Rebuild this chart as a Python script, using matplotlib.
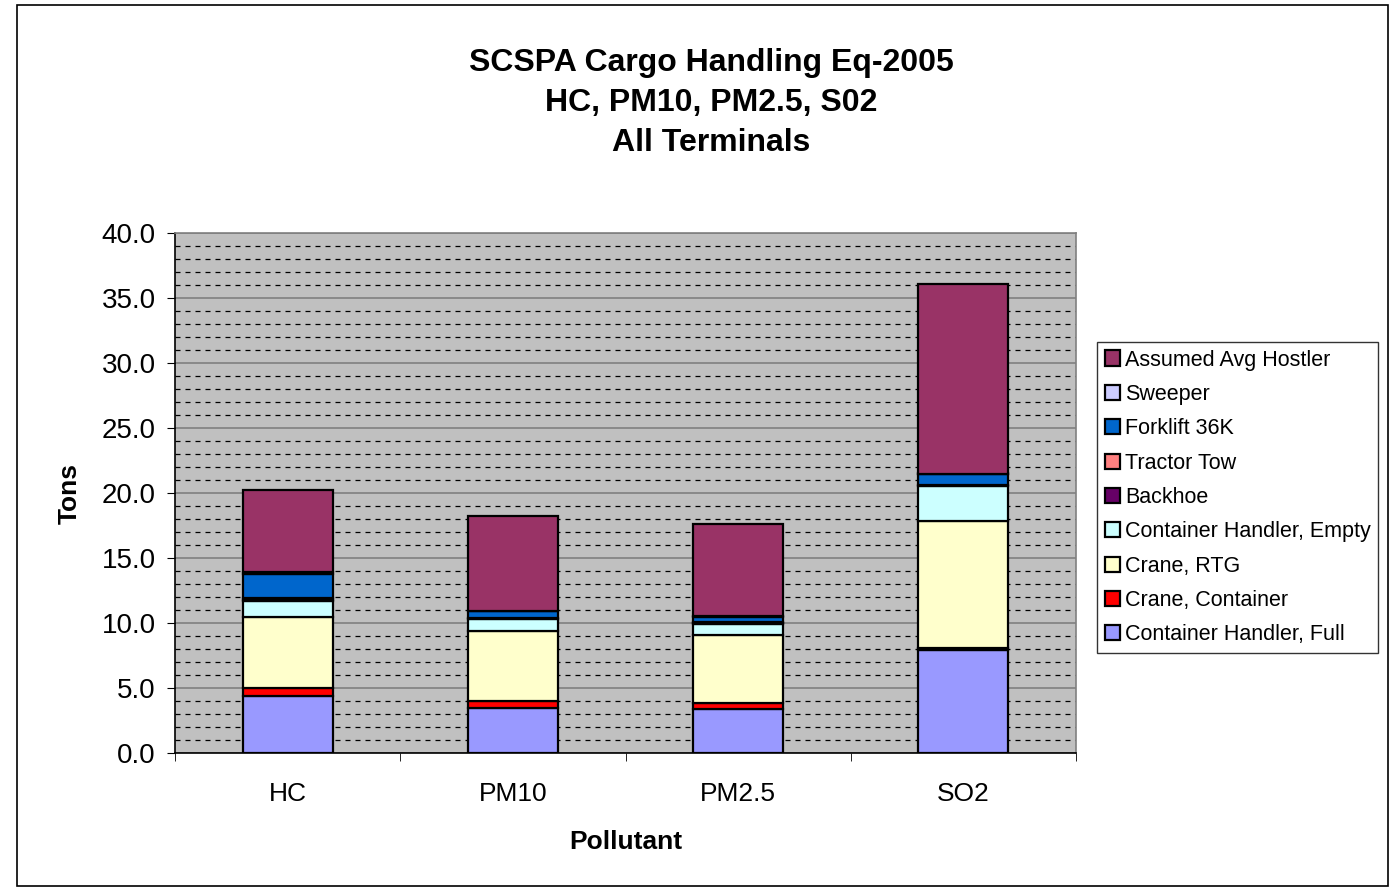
import numpy as np
import matplotlib.pyplot as plt
from matplotlib.patches import Rectangle

plt.rcParams['font.family'] = ['Liberation Sans', 'DejaVu Sans']

pollutants = ["HC", "PM10", "PM2.5", "SO2"]

# stacked from bottom to top
ch_full = [4.4, 3.5, 3.4, 7.9]
crane_container = [0.6, 0.5, 0.45, 0.15]
crane_rtg = [5.5, 5.4, 5.2, 9.8]
ch_empty = [1.2, 0.9, 0.9, 2.7]
backhoe = [0.1, 0.05, 0.05, 0.05]
tractor_tow = [0.1, 0.05, 0.05, 0.05]
forklift = [1.9, 0.5, 0.45, 0.8]
sweeper = [0.1, 0.05, 0.05, 0.05]
hostler = [6.3, 7.3, 7.1, 14.6]

series = [
    ("Container Handler, Full", ch_full, "#9999FF"),
    ("Crane, Container", crane_container, "#FF0000"),
    ("Crane, RTG", crane_rtg, "#FFFFCC"),
    ("Container Handler, Empty", ch_empty, "#CCFFFF"),
    ("Backhoe", backhoe, "#660066"),
    ("Tractor Tow", tractor_tow, "#FF8080"),
    ("Forklift 36K", forklift, "#0066CC"),
    ("Sweeper", sweeper, "#CCCCFF"),
    ("Assumed Avg Hostler", hostler, "#993366"),
]

fig = plt.figure(figsize=(13.91, 8.89), dpi=100)
ax = fig.add_axes([175 / 1391, 1 - 753 / 889, 901 / 1391, 520 / 889])
ax.set_facecolor("#C0C0C0")

x = np.arange(len(pollutants))
bottom = np.zeros(len(pollutants))
handles = []
for name, vals, color in series:
    b = ax.bar(x, vals, 0.4, bottom=bottom, color=color, edgecolor="black",
               linewidth=1.6, label=name, zorder=3)
    bottom += np.array(vals)
    handles.append(b)

ax.set_xlim(-0.5, 3.5)
ax.set_ylim(0, 40)
ax.set_yticks(np.arange(0, 40.1, 5))
ax.set_yticklabels([f"{v:.1f}" for v in np.arange(0, 40.1, 5)])
ax.set_yticks(np.arange(0, 40.1, 1), minor=True)
ax.tick_params(axis="y", which="minor", length=0)
ax.tick_params(axis="y", which="major", length=6, direction="out", labelsize=20, pad=8)
ax.set_xticks(x)
ax.set_xticklabels(pollutants)
ax.set_xticks(np.arange(-0.5, 3.6, 1), minor=True)
ax.tick_params(axis="x", which="major", length=0, labelsize=19, pad=21)
ax.tick_params(axis="x", which="minor", length=6, direction="out")

ax.grid(axis="y", which="minor", color="black", linestyle=(0, (4, 4)), linewidth=0.9, zorder=1)
ax.grid(axis="y", which="major", color="#808080", linestyle="-", linewidth=1.2, zorder=2)
ax.set_axisbelow(True)
for s in ax.spines.values():
    s.set_color("#808080")
    s.set_linewidth(1.2)
ax.spines["bottom"].set_color("black")
ax.spines["left"].set_color("black")

ax.set_xlabel("Pollutant", fontsize=19, fontweight="bold", labelpad=17)
ax.set_ylabel("Tons", fontsize=19, fontweight="bold", labelpad=14)

fig.text(711 / 1391, 1 - 103 / 889, "SCSPA Cargo Handling Eq-2005\nHC, PM10, PM2.5, S02\nAll Terminals",
         ha="center", va="center", fontsize=23, fontweight="bold", linespacing=1.45)

leg = ax.legend(handles[::-1], [s[0] for s in series][::-1], loc="upper left",
                bbox_to_anchor=(1097 / 1391, 1 - 342 / 889), bbox_transform=fig.transFigure,
                fontsize=15.5, frameon=True, fancybox=False, edgecolor="black",
                handlelength=0.7, handleheight=0.7, handletextpad=0.25,
                labelspacing=0.62, borderpad=0.35, borderaxespad=0)
leg.get_frame().set_linewidth(1.0)

fig.patches.append(Rectangle((17 / 1391, 1 - 886 / 889), 1371 / 1391, 881 / 889,
                             transform=fig.transFigure, fill=False, edgecolor="black",
                             linewidth=1.2))

fig.savefig("out.png", dpi=100)
